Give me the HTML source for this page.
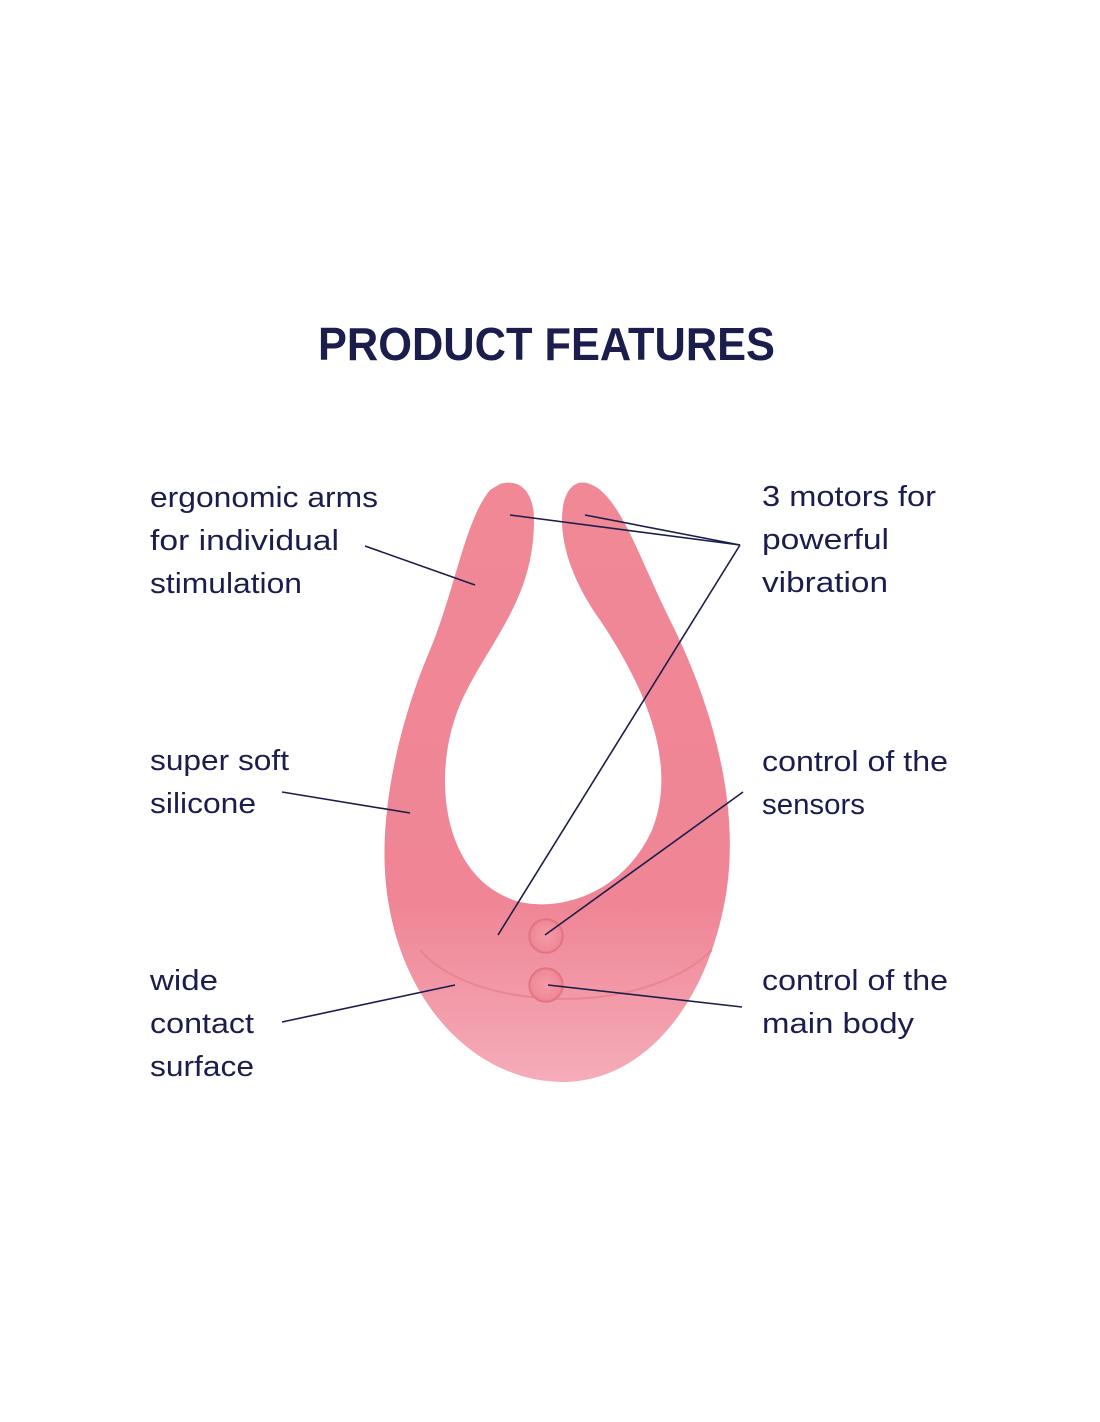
<!DOCTYPE html>
<html><head><meta charset="utf-8"><style>
html,body{margin:0;padding:0;background:#fff;}
svg{display:block;}
text{font-family:"Liberation Sans",sans-serif;fill:#1b1d4c;}
.l{font-size:29px;}
</style></head><body>
<svg width="1100" height="1422" viewBox="0 0 1100 1422" xmlns="http://www.w3.org/2000/svg">
<defs>
<linearGradient id="g" x1="0" y1="0" x2="0" y2="1">
<stop offset="0" stop-color="#f08896"/>
<stop offset="0.7" stop-color="#ef8595"/>
<stop offset="1" stop-color="#f5acb9"/>
</linearGradient>
<radialGradient id="b" cx="0.5" cy="0.5" r="0.5">
<stop offset="0" stop-color="#f59aa8"/>
<stop offset="0.85" stop-color="#f08a98"/>
<stop offset="1" stop-color="#e27483"/>
</radialGradient>
</defs>
<text x="318" y="360" font-size="46" font-weight="bold" textLength="457" lengthAdjust="spacingAndGlyphs">PRODUCT FEATURES</text>

<path fill="url(#g)" d="M 500 484 C 520 478, 534 492, 534 520 C 534 600, 490 640, 462 700 C 430 770, 440 880, 520 902 C 565 912, 625 890, 652 830 C 680 760, 640 680, 600 620 C 575 585, 562 550, 562 520 C 562 490, 575 478, 590 484 C 620 495, 640 560, 670 620 C 720 720, 740 820, 725 900 C 705 1010, 640 1082, 563 1082 C 480 1082, 405 1010, 388 900 C 375 820, 400 720, 430 650 C 455 590, 465 520, 490 490 Z"/>
<path fill="none" stroke="#e57a89" stroke-width="2" opacity="0.6" d="M 420 950 C 470 1010, 640 1020, 712 950"/>
<circle cx="546" cy="936" r="17" fill="url(#b)" stroke="#e17080" stroke-width="1.2"/>
<circle cx="546" cy="985" r="17" fill="url(#b)" stroke="#e17080" stroke-width="1.2"/>

<g stroke="#1b1d4c" stroke-width="1.6" fill="none">
<line x1="365" y1="546" x2="475" y2="585"/>
<line x1="510" y1="515" x2="740" y2="545"/>
<line x1="585" y1="515" x2="740" y2="545"/>
<line x1="740" y1="545" x2="498" y2="935"/>
<line x1="282" y1="792" x2="410" y2="813"/>
<line x1="743" y1="792" x2="545" y2="935"/>
<line x1="282" y1="1022" x2="455" y2="985"/>
<line x1="548" y1="985" x2="742" y2="1007"/>
</g>

<g class="l">
<text x="150" y="507" textLength="228" lengthAdjust="spacingAndGlyphs">ergonomic arms</text>
<text x="150" y="550" textLength="189" lengthAdjust="spacingAndGlyphs">for individual</text>
<text x="150" y="593" textLength="152" lengthAdjust="spacingAndGlyphs">stimulation</text>
<text x="150" y="770" textLength="139" lengthAdjust="spacingAndGlyphs">super soft</text>
<text x="150" y="813" textLength="106" lengthAdjust="spacingAndGlyphs">silicone</text>
<text x="150" y="990" textLength="68" lengthAdjust="spacingAndGlyphs">wide</text>
<text x="150" y="1033" textLength="104" lengthAdjust="spacingAndGlyphs">contact</text>
<text x="150" y="1076" textLength="104" lengthAdjust="spacingAndGlyphs">surface</text>
<text x="762" y="506" textLength="174" lengthAdjust="spacingAndGlyphs">3 motors for</text>
<text x="762" y="549" textLength="127" lengthAdjust="spacingAndGlyphs">powerful</text>
<text x="762" y="592" textLength="126" lengthAdjust="spacingAndGlyphs">vibration</text>
<text x="762" y="771" textLength="186" lengthAdjust="spacingAndGlyphs">control of the</text>
<text x="762" y="814" textLength="103" lengthAdjust="spacingAndGlyphs">sensors</text>
<text x="762" y="990" textLength="186" lengthAdjust="spacingAndGlyphs">control of the</text>
<text x="762" y="1033" textLength="152" lengthAdjust="spacingAndGlyphs">main body</text>
</g>
</svg>
</body></html>
